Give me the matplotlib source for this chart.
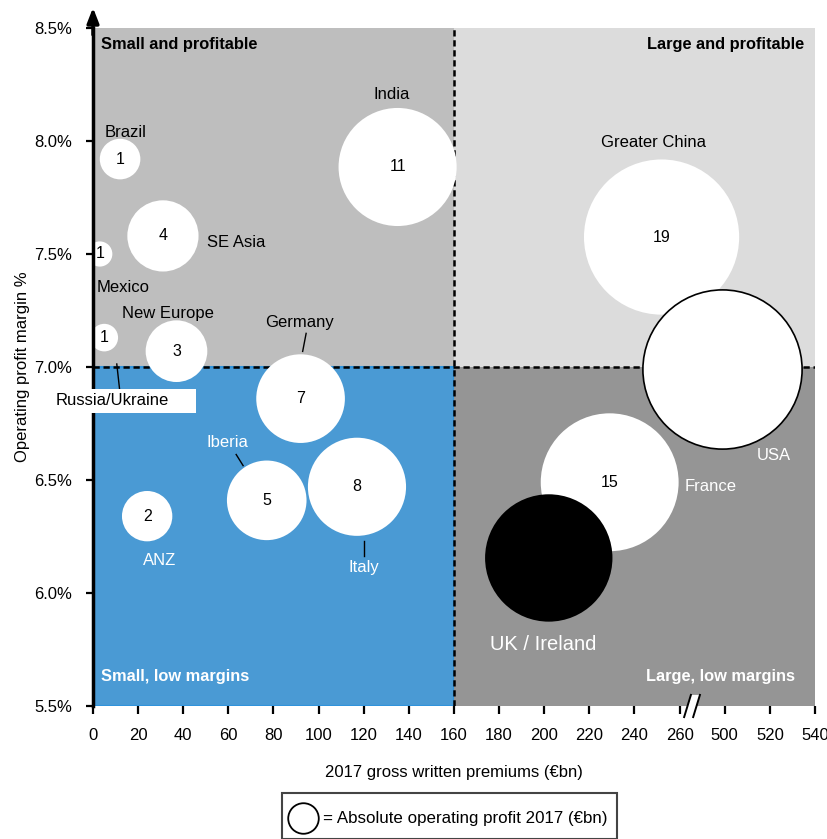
import numpy as np
import matplotlib
matplotlib.use("Agg")
import matplotlib.pyplot as plt
from matplotlib.patches import Rectangle, Polygon
from matplotlib.lines import Line2D

plt.rcParams["font.family"] = ["Liberation Sans", "DejaVu Sans"]

# ---- data ----
regions = ["Brazil", "Mexico", "Russia/Ukraine", "SE Asia", "New Europe", "India",
           "Germany", "Iberia", "Italy", "ANZ", "Greater China", "France",
           "UK / Ireland", "USA"]
gwp = [12, 3, 5, 31, 37, 135, 92, 77, 117, 24, 252, 229, 202, 499]          # EUR bn
margin = [7.92, 7.50, 7.13, 7.58, 7.07, 7.885, 6.86, 6.41, 6.47, 6.34,
          7.575, 6.49, 6.155, 6.99]                                        # %
profit = [1.3, 0.5, 0.6, 4, 3, 11, 6.2, 5, 7.6, 2, 19, 15, 12.8, 20]       # EUR bn (bubble area)
profit_label = ["1", "1", "1", "4", "3", "11", "7", "5", "8", "2", "19", "15", "", ""]

x_ticks = [0, 20, 40, 60, 80, 100, 120, 140, 160, 180, 200, 220, 240, 260, 500, 520, 540]
y_ticks = [5.5, 6.0, 6.5, 7.0, 7.5, 8.0, 8.5]
x_split, y_split = 160, 7.0
GAP = 220  # axis break: 260 -> 480 skipped


def xpos(v):
    v = np.asarray(v, dtype=float)
    return np.where(v >= 480, v - GAP, v)


# label style: (dx, dy) in points from bubble centre, colour
lab = {
    "Brazil": (4, 19, "k"), "Mexico": (17, -24, "k"), "Russia/Ukraine": (6, -45, "k"),
    "SE Asia": (53, -5, "k"), "New Europe": (-6, 27, "k"), "India": (-4, 52, "k"),
    "Germany": (-1, 55, "k"), "Iberia": (-28, 42, "w"), "Italy": (5, -58, "w"),
    "ANZ": (9, -32, "w"), "Greater China": (-6, 68, "k"), "France": (73, -3, "w"),
    "UK / Ireland": (-4, -62, "w"), "USA": (37, -62, "w"),
}
# leader lines: (start, end) offsets in points
leaders = {
    "Germany": ((4, 47), (1.5, 34)), "Iberia": ((-22, 33), (-17, 25)),
    "Italy": ((5, -39), (5, -50)), "Russia/Ukraine": ((9, -19), (11, -37)),
}

fig = plt.figure(figsize=(8.28, 8.39), dpi=100)
ax = fig.add_axes([93 / 828, 1 - 706 / 839, 722 / 828, 678 / 839])
xmax = float(xpos(540))
ax.set_xlim(0, xmax)
ax.set_ylim(5.5, 8.5)

# quadrants
ax.add_patch(Rectangle((0, y_split), x_split, 8.5 - y_split, fc="#bebebe", ec="none", zorder=0))
ax.add_patch(Rectangle((x_split, y_split), xmax - x_split, 8.5 - y_split, fc="#dcdcdc", ec="none", zorder=0))
ax.add_patch(Rectangle((0, 5.5), x_split, y_split - 5.5, fc="#4a9ad4", ec="#2f93dc", lw=1.5, zorder=0))
ax.add_patch(Rectangle((x_split, 5.5), xmax - x_split, y_split - 5.5, fc="#959595", ec="none", zorder=0))
ax.axvline(x_split, color="k", lw=1.8, ls=(0, (2.5, 1.5)), zorder=1)
ax.axhline(y_split, color="k", lw=1.8, ls=(0, (2.5, 1.5)), zorder=1)

# bubbles
xp = xpos(gwp)
for i, r in enumerate(regions):
    fc = "black" if r == "UK / Ireland" else "white"
    ec = "black" if r == "USA" else "none"
    ax.scatter(xp[i], margin[i], s=657 * profit[i], c=fc, edgecolors=ec,
               linewidths=1.2 if r == "USA" else 0, zorder=3 + i * 0.01)
    if profit_label[i]:
        ax.text(xp[i], margin[i], profit_label[i], ha="center", va="center",
                fontsize=11.5, color="k", zorder=5)


def off(x, y, dx, dy):
    p = ax.transData.transform((x, y)) + np.array([dx, dy]) * fig.dpi / 72
    return ax.transData.inverted().transform(p)


for i, r in enumerate(regions):
    dx, dy, col = lab[r]
    tx, ty = off(xp[i], margin[i], dx, dy)
    fs = 14.5 if r == "UK / Ireland" else 12
    if r == "Russia/Ukraine":
        # white label box, covers the y axis and is wider than the text on the right
        b0 = off(xp[i], margin[i], -38, -54)
        b1 = off(xp[i], margin[i], 66, -37)
        ax.add_patch(Rectangle(b0, b1[0] - b0[0], b1[1] - b0[1], fc="white", ec="none",
                               zorder=8, clip_on=False))
    ax.text(tx, ty, r, ha="center", va="center", fontsize=fs, color=col, zorder=9)
    if r in leaders:
        (sx, sy), (ex, ey) = leaders[r]
        a = off(xp[i], margin[i], sx, sy)
        b = off(xp[i], margin[i], ex, ey)
        ax.plot([a[0], b[0]], [a[1], b[1]], color="k", lw=1, zorder=5)

# quadrant titles
ax.text(0.011, 0.975, "Small and profitable", transform=ax.transAxes, ha="left", va="center",
        fontsize=11.8, fontweight="bold", color="k")
ax.text(0.985, 0.975, "Large and profitable", transform=ax.transAxes, ha="right", va="center",
        fontsize=11.8, fontweight="bold", color="k")
ax.text(0.011, 0.044, "Small, low margins", transform=ax.transAxes, ha="left", va="center",
        fontsize=11.8, fontweight="bold", color="white")
ax.text(0.972, 0.044, "Large, low margins", transform=ax.transAxes, ha="right", va="center",
        fontsize=11.8, fontweight="bold", color="white")

# axes styling
for s in ["top", "right", "bottom"]:
    ax.spines[s].set_visible(False)
ax.spines["left"].set_linewidth(2.5)
ax.spines["left"].set_zorder(7)
ax.set_xticks(xpos(x_ticks))
ax.set_xticklabels([str(t) for t in x_ticks])
ax.set_yticks(y_ticks)
ax.set_yticklabels(["%.1f%%" % t for t in y_ticks])
ax.tick_params(axis="x", length=6, width=1.6, pad=10, labelsize=12)
ax.tick_params(axis="y", length=5, width=1.6, pad=10, labelsize=12)
ax.set_xlabel("2017 gross written premiums (€bn)", fontsize=12, labelpad=16)
ax.set_ylabel("Operating profit margin %", fontsize=12, labelpad=3)

# arrow on y axis
ax.annotate("", xy=(0, 1.03), xycoords="axes fraction", xytext=(0, 0.99),
            textcoords="axes fraction",
            arrowprops=dict(arrowstyle="-|>,head_width=0.35,head_length=0.9",
                            color="k", lw=2.5, shrinkA=0, shrinkB=0))

# axis break marks
brk = Polygon([(262, 5.451), (265, 5.549), (269, 5.549), (266, 5.451)],
              closed=True, fc="white", ec="none", clip_on=False, zorder=8)
ax.add_patch(brk)
ax.plot([262, 265], [5.451, 5.549], color="k", lw=1.4, clip_on=False, zorder=9)
ax.plot([266, 269], [5.451, 5.549], color="k", lw=1.4, clip_on=False, zorder=9)

# legend box
fig.patches.append(Rectangle((282 / 828, 0.0), 335 / 828, 46 / 839, transform=fig.transFigure,
                             fc="white", ec="#444444", lw=1.5, figure=fig))
fig.add_artist(Line2D([303 / 828], [1 - 818 / 839], marker="o", markersize=22,
                      mfc="white", mec="k", mew=1.3, transform=fig.transFigure))
fig.text(323 / 828, 1 - 818 / 839, "= Absolute operating profit 2017 (€bn)",
         ha="left", va="center", fontsize=12.2)

fig.savefig("out.png", dpi=100)
